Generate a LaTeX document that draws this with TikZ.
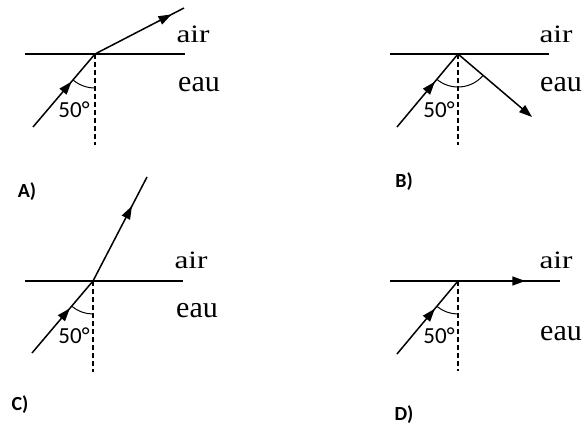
\documentclass[tikz,border=0pt]{standalone}
\usepackage{fontspec}
\setmainfont{Liberation Serif}
\newfontfamily\carl{Carlito}
\usetikzlibrary{arrows.meta,decorations.markings}
\tikzset{
  ray/.style={line width=1.5pt},
  iface/.style={line width=1.3pt},
  normline/.style={line width=1.1pt, dash pattern=on 5pt off 3pt},
  anglearc/.style={line width=1pt},
  midarrow/.style={postaction={decorate},decoration={markings,
      mark=at position #1 with {\arrow{Triangle[length=13pt,width=9pt]}}}},
  endarrow/.style={-{Triangle[length=13pt,width=9pt]}},
  airlbl/.style={anchor=base, inner sep=0pt, font=\fontsize{25}{25}\selectfont},
  eaulbl/.style={anchor=base, inner sep=0pt, font=\fontsize{30}{30}\selectfont},
  anglbl/.style={anchor=base, inner sep=0pt, font=\carl\fontsize{23}{23}\selectfont},
  letlbl/.style={anchor=base, inner sep=0pt, font=\carl\bfseries\fontsize{20}{20}\selectfont},
}
\newcommand{\airword}{\scalebox{1.25}[1]{air}}
\begin{document}
\begin{tikzpicture}[x=1pt,y=-1pt]
\useasboundingbox (0,0) rectangle (584,425);
% ---------- A ----------
\coordinate (pA) at (95,54);
\coordinate (aL) at (25,54);
\coordinate (aR) at (185,54);
\coordinate (aS) at (33,127);
\coordinate (aE) at (184,8);
\coordinate (aN) at (95,145);
\draw[iface] (aL) -- (aR);
\draw[normline] (pA) -- (aN);
\draw[ray, midarrow=0.62] (aS) -- (pA);
\draw[ray, midarrow=0.86] (pA) -- (aE);
\draw[anglearc] (pA) ++(90:34) arc[start angle=90, end angle=130.3, radius=34];
\node[airlbl] (airA) at (193,43) {\airword};
\node[eaulbl] (eauA) at (199,92) {eau};
\node[anglbl] (angA) at (74,118) {50°};
\node[letlbl] (labA) at (27,197) {A)};
% ---------- B ----------
\coordinate (pB) at (458,54);
\coordinate (bL) at (390,54);
\coordinate (bR) at (549,54);
\coordinate (bS) at (397,127);
\coordinate (bE) at (532,117);
\coordinate (bN) at (458,145);
\draw[iface] (bL) -- (bR);
\draw[normline] (pB) -- (bN);
\draw[ray, midarrow=0.62] (bS) -- (pB);
\draw[ray, endarrow] (pB) -- (bE);
\draw[anglearc] (pB) ++(40.4:33) arc[start angle=40.4, end angle=130.3, radius=33];
\node[airlbl] (airB) at (556,43) {\airword};
\node[eaulbl] (eauB) at (561,92) {eau};
\node[anglbl] (angB) at (439,118) {50°};
\node[letlbl] (labB) at (404,187) {B)};
% ---------- C ----------
\coordinate (pC) at (93,281);
\coordinate (cL) at (25,281);
\coordinate (cR) at (183,281);
\coordinate (cS) at (32,353);
\coordinate (cE) at (147,177);
\coordinate (cN) at (93,372);
\draw[iface] (cL) -- (cR);
\draw[normline] (pC) -- (cN);
\draw[ray, midarrow=0.62] (cS) -- (pC);
\draw[ray, midarrow=0.72] (pC) -- (cE);
\draw[anglearc] (pC) ++(90:33) arc[start angle=90, end angle=130.3, radius=33];
\node[airlbl] (airC) at (191,268) {\airword};
\node[eaulbl] (eauC) at (197,317) {eau};
\node[anglbl] (angC) at (74,343) {50°};
\node[letlbl] (labC) at (20,410) {C)};
% ---------- D ----------
\coordinate (pD) at (458,281);
\coordinate (dL) at (390,281);
\coordinate (dR) at (560,281);
\coordinate (dS) at (397,354);
\coordinate (dN) at (458,371);
\draw[iface] (dL) -- (dR);
\draw[normline] (pD) -- (dN);
\draw[ray, midarrow=0.62] (dS) -- (pD);
\draw[ray, midarrow=0.66] (pD) -- (dR);
\draw[anglearc] (pD) ++(90:33) arc[start angle=90, end angle=130.3, radius=33];
\node[airlbl] (airD) at (556,268) {\airword};
\node[eaulbl] (eauD) at (561,340) {eau};
\node[anglbl] (angD) at (439,343) {50°};
\node[letlbl] (labD) at (404,420) {D)};
\end{tikzpicture}
\end{document}
